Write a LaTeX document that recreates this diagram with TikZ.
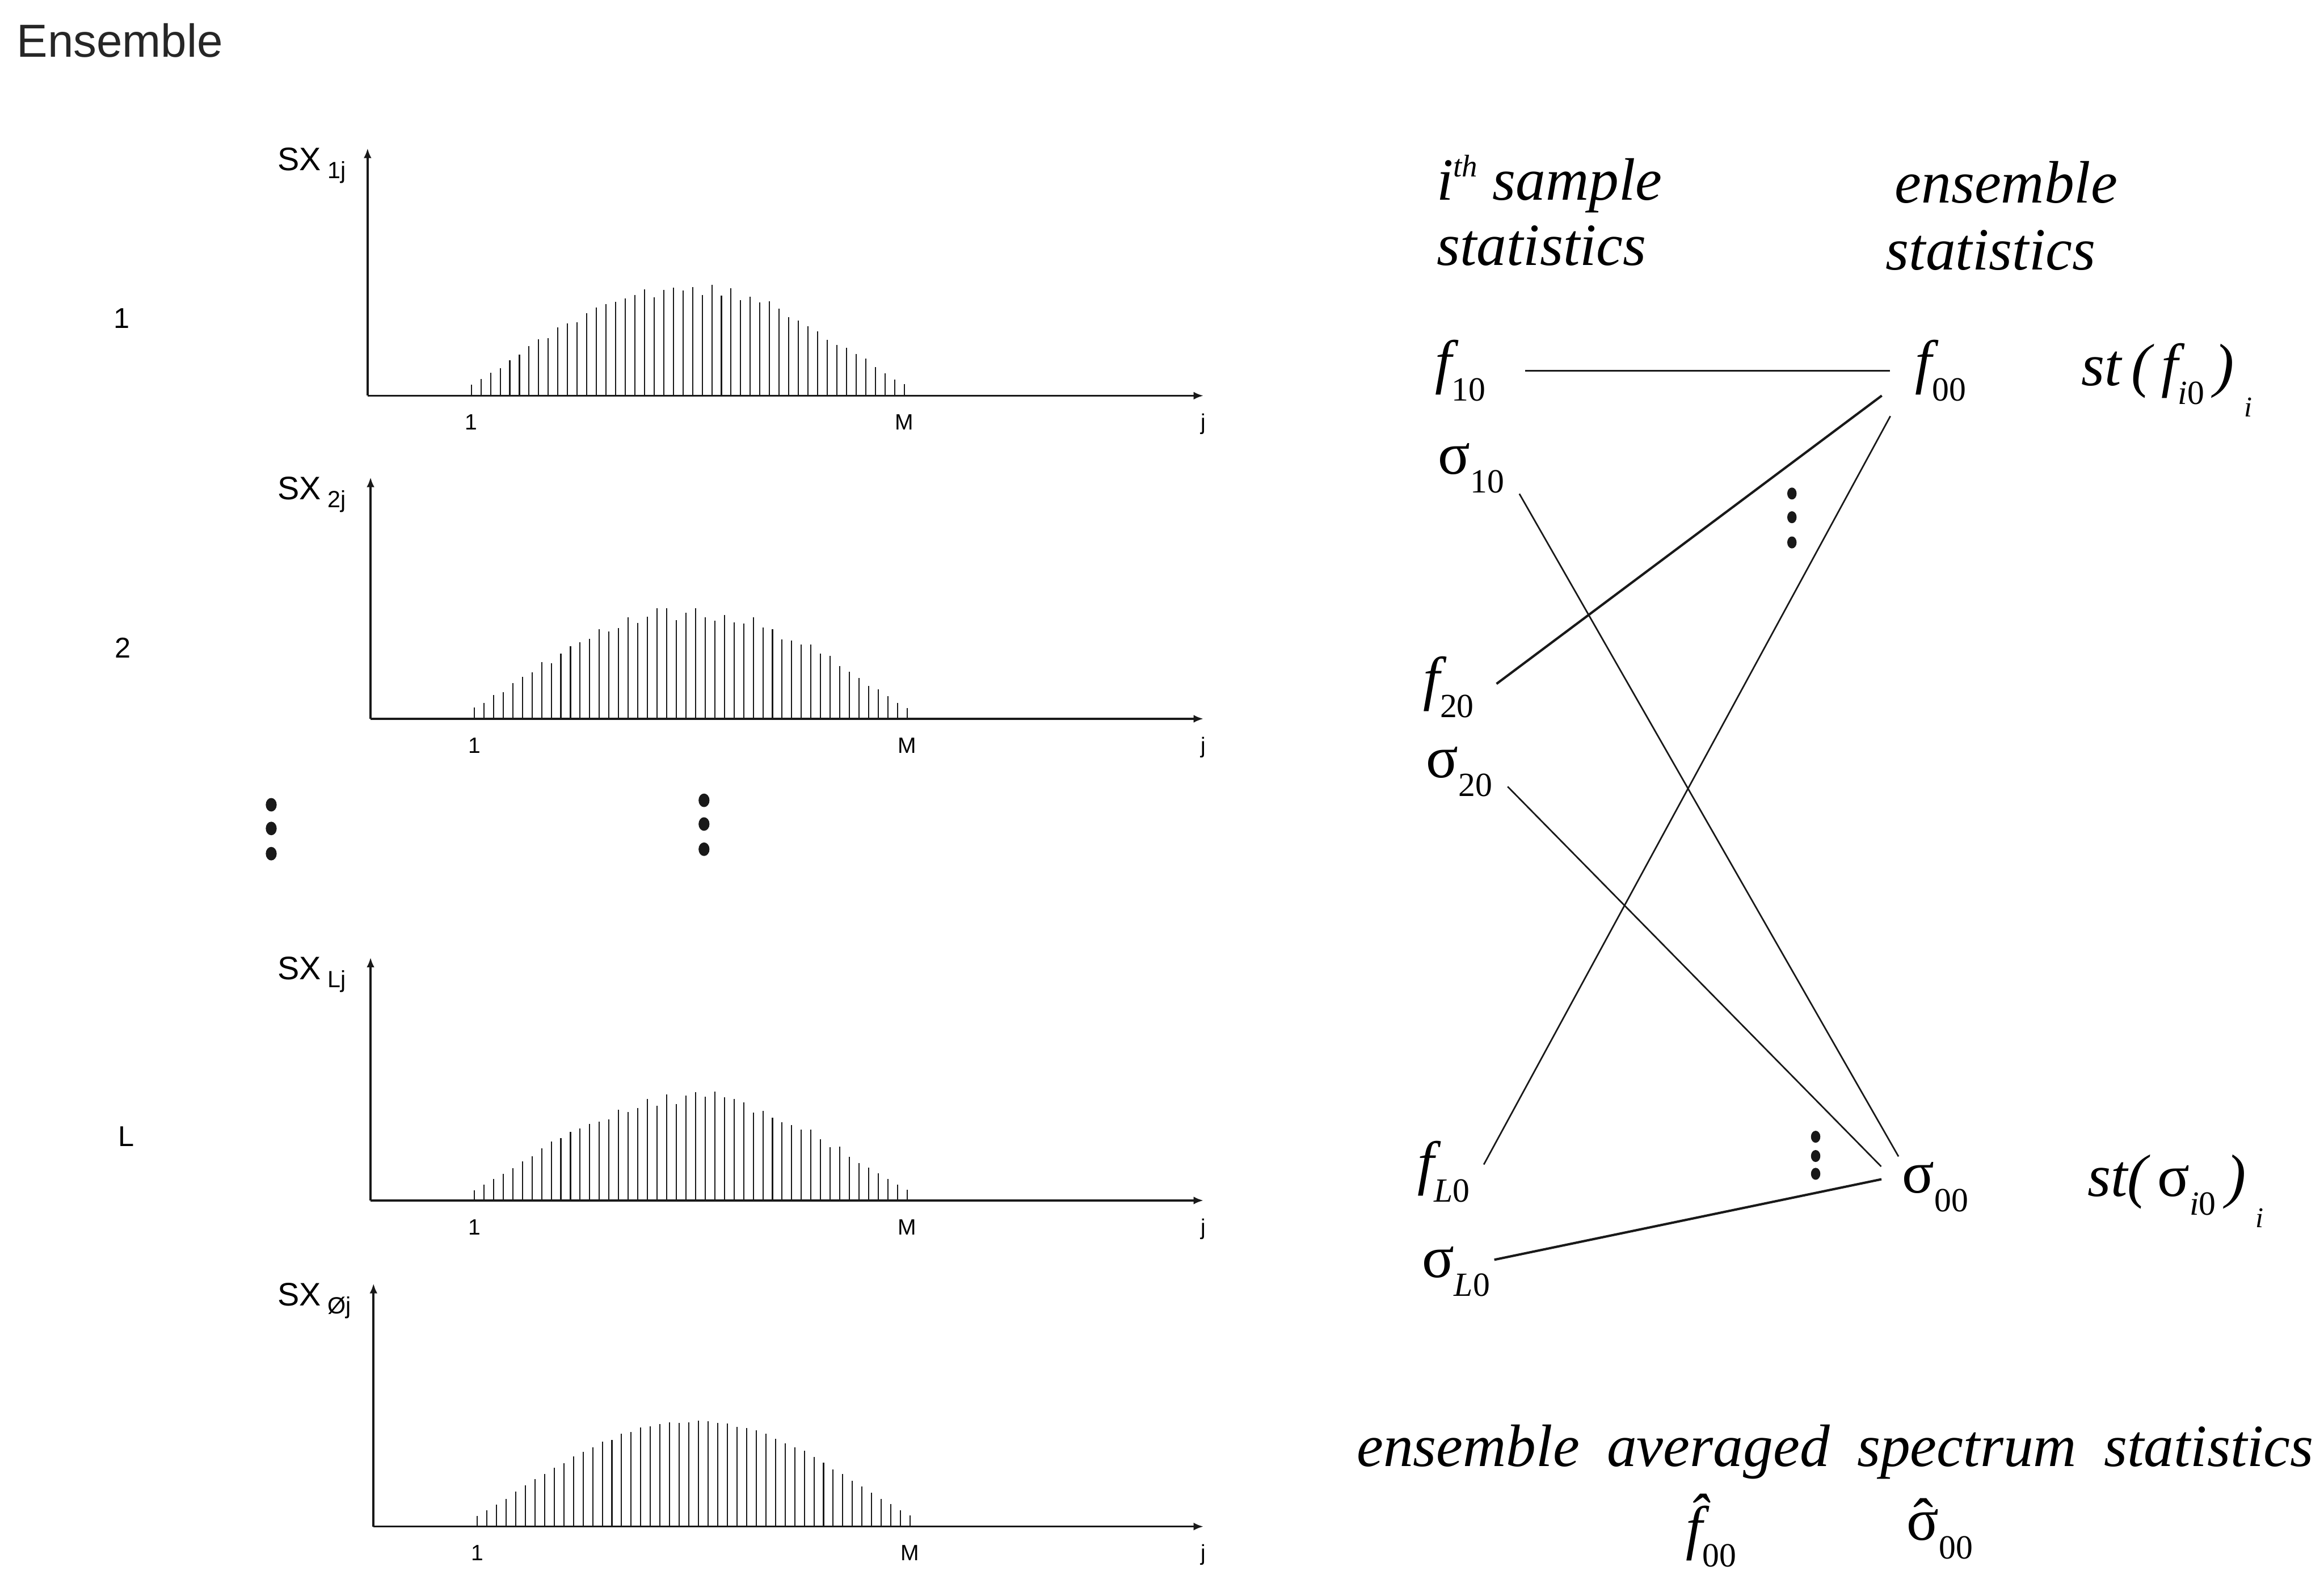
\documentclass[tikz,border=0pt]{standalone}
\usepackage{fontspec}
\setmainfont{Liberation Serif}
\newfontfamily\lsans{Liberation Sans}
\usetikzlibrary{arrows.meta}

\newcommand{\sbs}[1]{\raisebox{-7.2pt}{\fontsize{13}{13}\selectfont\upshape #1}}
\newcommand{\hatsig}{\makebox[0pt][l]{\hspace{2.6pt}ˆ}σ}

\begin{document}
\begin{tikzpicture}[x=0.02cm, y=-0.02cm,
  ink/.style={black!90},
  axis/.style={ink, line width=0.8pt, -{Latex[length=3.8pt,width=3pt]}},
  stem/.style={ink, line width=0.45pt},
  tick/.style={font=\lsans\fontsize{8.5}{8.5}\selectfont, inner sep=0pt, anchor=base},
  sxlab/.style={font=\lsans\fontsize{12.5}{12.5}\selectfont, inner sep=0pt, anchor=base west},
  rowlab/.style={font=\lsans\fontsize{11}{11}\selectfont, inner sep=0pt},
  stat/.style={font=\itshape\fontsize{23}{23}\selectfont, inner sep=0pt, anchor=base west},
  link/.style={ink, line width=0.6pt},
  dot/.style={fill=black!90},
  ]
 \useasboundingbox (0,0) rectangle (1568,1060);
 \node[anchor=base west, inner sep=0pt, font=\lsans\fontsize{17.8}{17.8}\selectfont, text=black!85] (title) at (11,38.5) {Ensemble};

 % spectra: name/subscript/y-axis/baseline/top/first line/peak/noise
 \pgfmathsetseed{7}
 \foreach \n/\s/\ax/\yb/\yt/\xs/\hp/\nz in {1/1/248/267/100/318/72/0.07, 2/2/250/485/322/320/72/0.07, L/L/250/810/646/320/70/0.07, 0/Ø/252/1030/866/322/71/0.02}{
   \draw[axis] (\ax,\yb) -- (\ax,\yt);
   \draw[axis] (\ax,\yb) -- (812,\yb);
   \foreach \k in {0,...,45}{
     \pgfmathsetmacro\hh{\hp*(sin(180*(0.048+\k*0.02009)))^1.2*(1+\nz*rand)}
     \draw[stem] ({\xs+\k*6.49},\yb) -- ++(0,-\hh);
   }
   \node[sxlab] (sx\n) at (187,\yt+15) {SX\hspace{2.5pt}\raisebox{-3pt}{\fontsize{9}{9}\selectfont \s j}};
   \node[tick] (one\n) at (\xs,\yb+23) {1};
   \node[tick] (M\n) at (\xs+292,\yb+23) {M};
   \node[tick] (j\n) at (812,\yb+23) {j};
 }
 \node[rowlab] (row1) at (82,215) {1};
 \node[rowlab] (row2) at (83,437) {2};
 \node[rowlab] (rowL) at (85,767) {L};

 \foreach \x/\y in {183/543, 183/559, 183/576, 475/540, 475/556, 475/573}
   \fill[dot] (\x,\y) ellipse [x radius=2.1pt, y radius=2.6pt];
 \foreach \x/\y in {1209/333, 1209/349, 1209/366, 1225/767, 1225/780, 1225/792}
   \fill[dot] (\x,\y) ellipse [x radius=1.8pt, y radius=2.3pt];

 \node[stat] (head1) at (969,135) {i\raisebox{9pt}{\fontsize{12}{12}\selectfont th}\ sample};
 \node[stat] (head2) at (969,179) {statistics};
 \node[stat] (head3) at (1278,137) {ensemble};
 \node[stat] (head4) at (1272,182) {statistics};

 \node[stat] (f10) at (968,258) {f\sbs{10}};
 \node[stat] (s10) at (970,320) {\upshape σ\sbs{10}};
 \node[stat] (f20) at (960,471.5) {f\sbs{20}};
 \node[stat] (s20) at (962,524.6) {\upshape σ\sbs{20}};
 \node[stat] (fL0) at (956,798.5) {f\sbs{\textit{L}0}};
 \node[stat] (sL0) at (959,862) {\upshape σ\sbs{\textit{L}0}};
 \node[stat] (f00) at (1292,258) {f\sbs{00}};
 \node[stat] (s00) at (1283,805) {\upshape σ\sbs{00}};
 \node[stat] (stf) at (1404,260) {st\,(\,f\sbs{\textit{i}0}\,)\,\raisebox{-12pt}{\fontsize{11}{11}\selectfont i}};
 \node[stat] (sts) at (1408,807) {st(\,\textup{σ}\sbs{\textit{i}0}\,)\,\raisebox{-12pt}{\fontsize{11}{11}\selectfont i}};

 \node[stat] (avg) at (915,989.5) {ensemble\hspace{10.5pt}averaged\hspace{10.5pt}spectrum\hspace{10.5pt}statistics};
 \node[stat] (fhat) at (1137,1044.5) {\^{f}\sbs{00}};
 \node[stat] (shat) at (1286,1039) {\upshape\hatsig\sbs{00}};

 \draw[link, shorten <=15pt, shorten >=9.6pt] (f10.east) -- (f00.west);
 \draw[link, shorten <=11.2pt, shorten >=2.4pt] (s10.east) -- (s00.north west);
 \draw[link, line width=0.9pt, shorten <=10.6pt, shorten >=15.9pt] (f20.-27) -- (f00.west);
 \draw[link, shorten <=8pt, shorten >=11.2pt] (s20.east) -- (s00.west);
 \draw[link, shorten <=10.8pt, shorten >=19.8pt] (fL0.-33) -- (f00.west);
 \draw[link, line width=0.9pt, shorten <=1.5pt, shorten >=7.9pt] (sL0.18) -- (s00.160);
\end{tikzpicture}
\end{document}
